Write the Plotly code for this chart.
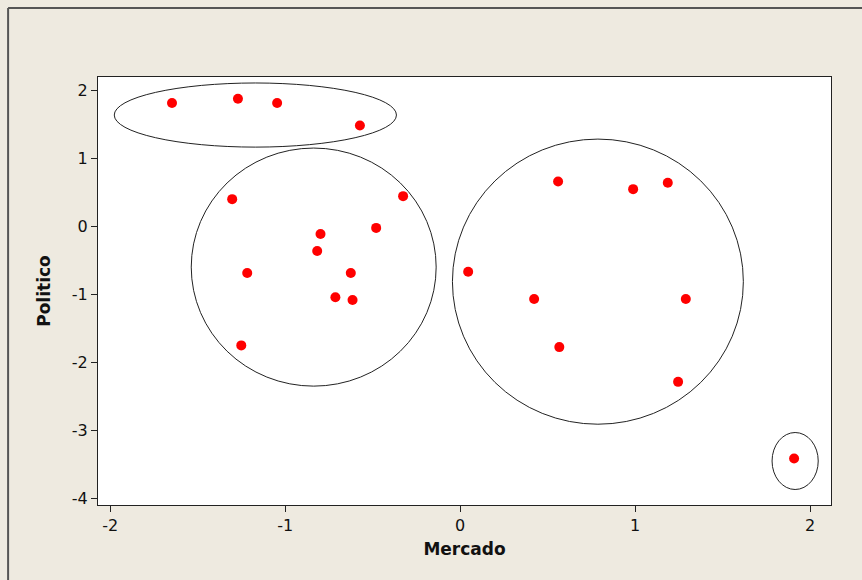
import plotly.graph_objects as go

# Data
mercado = [-1.647, -1.270, -1.046, -0.573,
           -1.303, -0.326, -0.480, -0.798, -0.817, -1.217, -0.625, -0.713, -0.615, -1.251,
           0.560, 0.989, 1.187, 0.046, 0.423, 1.290, 0.567, 1.246,
           1.909]
politico = [1.817, 1.881, 1.817, 1.487,
            0.404, 0.448, -0.019, -0.108, -0.358, -0.682, -0.682, -1.040, -1.080, -1.747,
            0.663, 0.551, 0.644, -0.663, -1.065, -1.065, -1.772, -2.283,
            -3.411]

# Cluster outlines (x0, x1, y0, y1) in data units
clusters = [
    (-1.977, -0.364, 1.169, 2.112),
    (-1.537, -0.137, -2.346, 1.155),
    (-0.044, 1.619, -2.906, 1.287),
    (1.783, 2.047, -3.866, -3.028),
]

xticks = [-2, -1, 0, 1, 2]
yticks = [2, 1, 0, -1, -2, -3, -4]

BG = "#eeeae0"

fig = go.Figure()
fig.add_trace(go.Scatter(
    x=mercado, y=politico, mode="markers",
    marker=dict(color="#ff0000", size=10, line=dict(width=0)),
    showlegend=False, hoverinfo="x+y",
))

shapes = []
for x0, x1, y0, y1 in clusters:
    shapes.append(dict(type="circle", xref="x", yref="y", x0=x0, x1=x1, y0=y0, y1=y1,
                       line=dict(color="#222222", width=1), layer="above"))

# outer frame (top and left edges)
L, R, T, B = 97.5, 831.3, 77.3, 504.7
W, H = R - L, B - T
fx = (7.5 - L) / W
fy = (B - 8.5) / H
shapes.append(dict(type="line", xref="paper", yref="paper", x0=fx, x1=1.2, y0=fy, y1=fy,
                   line=dict(color="#555555", width=2)))
shapes.append(dict(type="line", xref="paper", yref="paper", x0=fx, x1=fx, y0=fy, y1=-0.3,
                   line=dict(color="#555555", width=2)))

fig.update_layout(
    width=862, height=580,
    margin=dict(l=L, r=862 - R, t=T, b=580 - B, pad=0),
    paper_bgcolor=BG, plot_bgcolor="#ffffff",
    font=dict(family="DejaVu Sans", size=16, color="#111111"),
    shapes=shapes,
    xaxis=dict(
        range=[-2.07, 2.12], tickvals=xticks, ticktext=[str(v) for v in xticks],
        showgrid=False, zeroline=False, showline=True, linecolor="#222222", linewidth=1,
        mirror=True, ticks="outside", ticklen=6, tickcolor="#222222",
        title=dict(text="<b>Mercado</b>", font=dict(size=17), standoff=8),
    ),
    yaxis=dict(
        range=[-4.094, 2.2], tickvals=yticks, ticktext=[str(v) for v in yticks],
        showgrid=False, zeroline=False, showline=True, linecolor="#222222", linewidth=1,
        mirror=True, ticks="outside", ticklen=6, tickcolor="#222222",
        title=dict(text="<b>Politico</b>", font=dict(size=17), standoff=16),
    ),
)

fig.write_html("out.html",
               config={"displayModeBar": False},
               post_script="document.body.style.margin='0';document.body.style.background='%s';" % BG)
